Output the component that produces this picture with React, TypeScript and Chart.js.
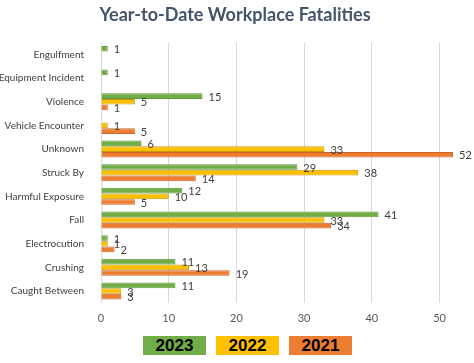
import React, { useEffect, useRef } from "react";
import { Chart, registerables } from "chart.js";

Chart.register(...registerables);

const categories = [
  "Engulfment",
  "Equipment Incident",
  "Violence",
  "Vehicle Encounter",
  "Unknown",
  "Struck By",
  "Harmful Exposure",
  "Fall",
  "Electrocution",
  "Crushing",
  "Caught Between",
];
const values2023 = [1, 1, 15, null, 6, 29, 12, 41, 1, 11, 11];
const values2022 = [null, null, 5, 1, 33, 38, 10, 33, 1, 13, 3];
const values2021 = [null, null, 1, 5, 52, 14, 5, 34, 2, 19, 3];
const seriesLabels = ["2023", "2022", "2021"];
const seriesColors = ["#70AD47", "#FFC000", "#ED7D31"];
const seriesBorders = ["#5E9A3A", "#C9960A", "#C9652A"];
const xTicks = [0, 10, 20, 30, 40, 50];

const valueLabels = {
  id: "valueLabels",
  afterDatasetsDraw(chart: any) {
    const ctx = chart.ctx;
    ctx.save();
    ctx.font = "11px Lato, 'Open Sans', sans-serif";
    ctx.fillStyle = "#404040";
    ctx.textBaseline = "middle";
    ctx.textAlign = "left";
    chart.data.datasets.forEach((ds: any, di: number) => {
      const meta = chart.getDatasetMeta(di);
      meta.data.forEach((bar: any, i: number) => {
        const v = ds.data[i];
        if (v === null || v === undefined) return;
        ctx.fillText(String(v), bar.x + 6, bar.y + 1);
      });
    });
    ctx.restore();
  },
};

export default function App() {
  const ref = useRef<HTMLCanvasElement>(null);
  useEffect(() => {
    document.body.style.margin = "0";
    const all = [values2023, values2022, values2021];
    const chart = new Chart(ref.current!, {
      type: "bar",
      data: {
        labels: categories,
        datasets: all.map((d, i) => ({
          label: seriesLabels[i],
          data: d,
          backgroundColor: seriesColors[i],
          borderColor: seriesBorders[i],
          borderWidth: 1,
          categoryPercentage: 0.72,
          barPercentage: 1,
        })),
      },
      options: {
        indexAxis: "y",
        animation: false,
        responsive: false,
        layout: { padding: { left: 0, right: 4, top: 0, bottom: 0 } },
        plugins: {
          legend: { display: false },
          tooltip: { enabled: false },
          title: {
            display: true,
            text: "Year-to-Date Workplace Fatalities",
            color: "#44546A",
            font: { family: "Lato, 'Open Sans', sans-serif", size: 18, weight: "bold" },
            padding: { top: 4, bottom: 17 },
          },
        },
        scales: {
          x: {
            min: 0,
            max: 54.5,
            afterBuildTicks: (scale: any) => {
              scale.ticks = xTicks.map((v) => ({ value: v }));
            },
            grid: { color: "#D9D9D9", drawTicks: false },
            border: { display: false },
            ticks: {
              color: "#595959",
              font: { family: "Lato, 'Open Sans', sans-serif", size: 11 },
              padding: 9,
            },
          },
          y: {
            afterFit: (scale: any) => {
              scale.width = 101;
            },
            grid: { display: false },
            border: { display: false },
            ticks: {
              color: "#404040",
              font: { family: "Lato, 'Open Sans', sans-serif", size: 10 },
              padding: 9,
            },
          },
        },
      },
      plugins: [valueLabels],
    });
    return () => chart.destroy();
  }, []);

  return (
    <div style={{ position: "relative", width: 474, height: 363, background: "#fff" }}>
      <canvas ref={ref} width={474} height={334} style={{ display: "block" }} />
      <div
        style={{
          position: "absolute",
          top: 336,
          left: 143,
          display: "flex",
          gap: 10,
        }}
      >
        {seriesLabels.map((l, i) => (
          <div
            key={l}
            style={{
              width: 63,
              height: 19,
              background: seriesColors[i],
              color: "#000",
              fontFamily: "'Liberation Sans', Arial, sans-serif",
              fontWeight: "bold",
              fontSize: 17,
              lineHeight: "19px",
              textAlign: "center",
            }}
          >
            {l}
          </div>
        ))}
      </div>
    </div>
  );
}
